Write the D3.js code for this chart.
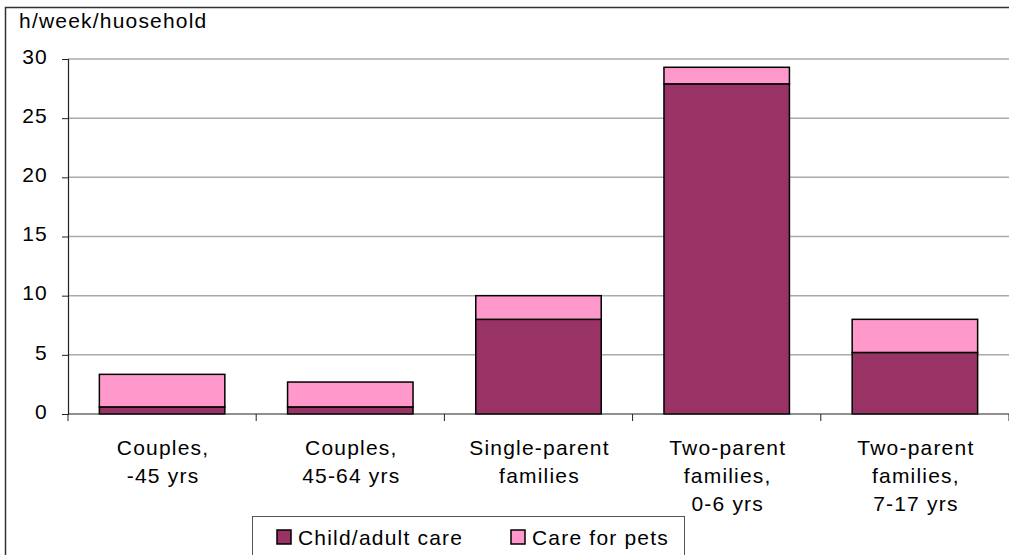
<!DOCTYPE html>
<html>
<head>
<meta charset="utf-8">
<script src="https://cdn.jsdelivr.net/npm/d3@7"></script>
<style>
  body { margin: 0; background: #fff; }
  svg { display: block; font-family: "Liberation Sans", Arial, sans-serif; }
  .lbl { font-size: 21px; letter-spacing: 1.2px; fill: #000; }
</style>
</head>
<body>
<div id="chart"></div>
<script>
var width = 1009;
var height = 555;

var categories = ['c1', 'c2', 'c3', 'c4', 'c5'];
var catLabels = [
    ['Couples,', '-45 yrs'],
    ['Couples,', '45-64 yrs'],
    ['Single-parent', 'families'],
    ['Two-parent', 'families,', '0-6 yrs'],
    ['Two-parent', 'families,', '7-17 yrs']
];
var childCare = [0.6, 0.6, 8.0, 27.9, 5.2];
var petCare = [2.75, 2.1, 2.0, 1.4, 2.8];
var keys = ['Child/adult care', 'Care for pets'];
var yTicks = [0, 5, 10, 15, 20, 25, 30];
var colors = ['#993366', '#FF99CC'];

var data = categories.map((c, i) => ({
    cat: c, 'Child/adult care': childCare[i], 'Care for pets': petCare[i]
}));
var series = d3.stack().keys(keys)(data);

var svg = d3.select('#chart').append('svg')
    .attr('width', width)
    .attr('height', height);

// outer chart border (runs off the right/bottom of the picture)
svg.append('rect')
    .attr('x', 5.5).attr('y', 7.5)
    .attr('width', 1100).attr('height', 600)
    .attr('fill', 'none')
    .attr('stroke', '#333')
    .attr('stroke-width', 1.5);

var x = d3.scaleBand()
    .domain(categories)
    .range([68, 1009])
    .paddingInner(1 / 3)
    .paddingOuter(1 / 6);

var y = d3.scaleLinear().domain([0, 30]).range([414, 59]);

// gridlines
svg.append('g')
    .selectAll('line')
    .data(yTicks.filter(d => d > 0))
    .enter().append('line')
    .attr('x1', 68).attr('x2', 1009)
    .attr('y1', d => y(d)).attr('y2', d => y(d))
    .attr('stroke', '#aaa')
    .attr('stroke-width', 1.5);

// bars
svg.selectAll('g.series')
    .data(series)
    .enter().append('g')
    .attr('class', 'series')
    .attr('fill', (d, i) => colors[i])
    .selectAll('rect')
    .data(d => d)
    .enter().append('rect')
    .attr('x', d => x(d.data.cat))
    .attr('y', d => y(d[1]))
    .attr('width', x.bandwidth())
    .attr('height', d => y(d[0]) - y(d[1]))
    .attr('stroke', '#000')
    .attr('stroke-width', 1.5);

// y axis
var yAxis = svg.append('g')
    .attr('transform', 'translate(68,0)')
    .call(d3.axisLeft(y).tickValues(yTicks).tickSize(6).tickPadding(14).tickFormat(d3.format('d')));
yAxis.select('.domain').attr('stroke', '#222').attr('stroke-width', 1.2);
yAxis.selectAll('.tick line').attr('stroke', '#222');
yAxis.selectAll('.tick text')
    .attr('class', 'lbl')
    .attr('dy', '0.2em')
    .style('font-family', '"Liberation Sans", Arial, sans-serif');

// x axis baseline + category boundary ticks
var bounds = d3.range(categories.length + 1).map(i => x.range()[0] + i * x.step());
svg.append('line')
    .attr('x1', 68).attr('x2', 1009)
    .attr('y1', y(0)).attr('y2', y(0))
    .attr('stroke', '#222').attr('stroke-width', 1.2);
svg.append('g')
    .selectAll('line')
    .data(bounds)
    .enter().append('line')
    .attr('x1', d => d).attr('x2', d => d)
    .attr('y1', y(0)).attr('y2', y(0) + 7)
    .attr('stroke', '#222');

// category labels
svg.append('g')
    .selectAll('text')
    .data(categories)
    .enter().append('text')
    .attr('class', 'lbl')
    .attr('text-anchor', 'middle')
    .attr('x', d => x(d) + x.bandwidth() / 2 + 1)
    .attr('y', 455)
    .each(function (d, i) {
        var t = d3.select(this);
        catLabels[i].forEach((line, j) => {
            t.append('tspan')
                .attr('x', x(d) + x.bandwidth() / 2 + 1)
                .attr('dy', j === 0 ? 0 : 28)
                .text(line);
        });
    });

// unit label
svg.append('text')
    .attr('class', 'lbl')
    .attr('x', 19).attr('y', 28)
    .text('h/week/huosehold');

// legend
var legend = svg.append('g');
legend.append('rect')
    .attr('x', 252.5).attr('y', 516.5)
    .attr('width', 432).attr('height', 60)
    .attr('fill', '#fff')
    .attr('stroke', '#555');
var legendX = [277, 511];
keys.forEach((k, i) => {
    legend.append('rect')
        .attr('x', legendX[i]).attr('y', 530)
        .attr('width', 14).attr('height', 14)
        .attr('fill', colors[i])
        .attr('stroke', '#000')
        .attr('stroke-width', 1.5);
    legend.append('text')
        .attr('class', 'lbl')
        .attr('x', legendX[i] + 21).attr('y', 545)
        .text(k);
});
</script>
</body>
</html>
